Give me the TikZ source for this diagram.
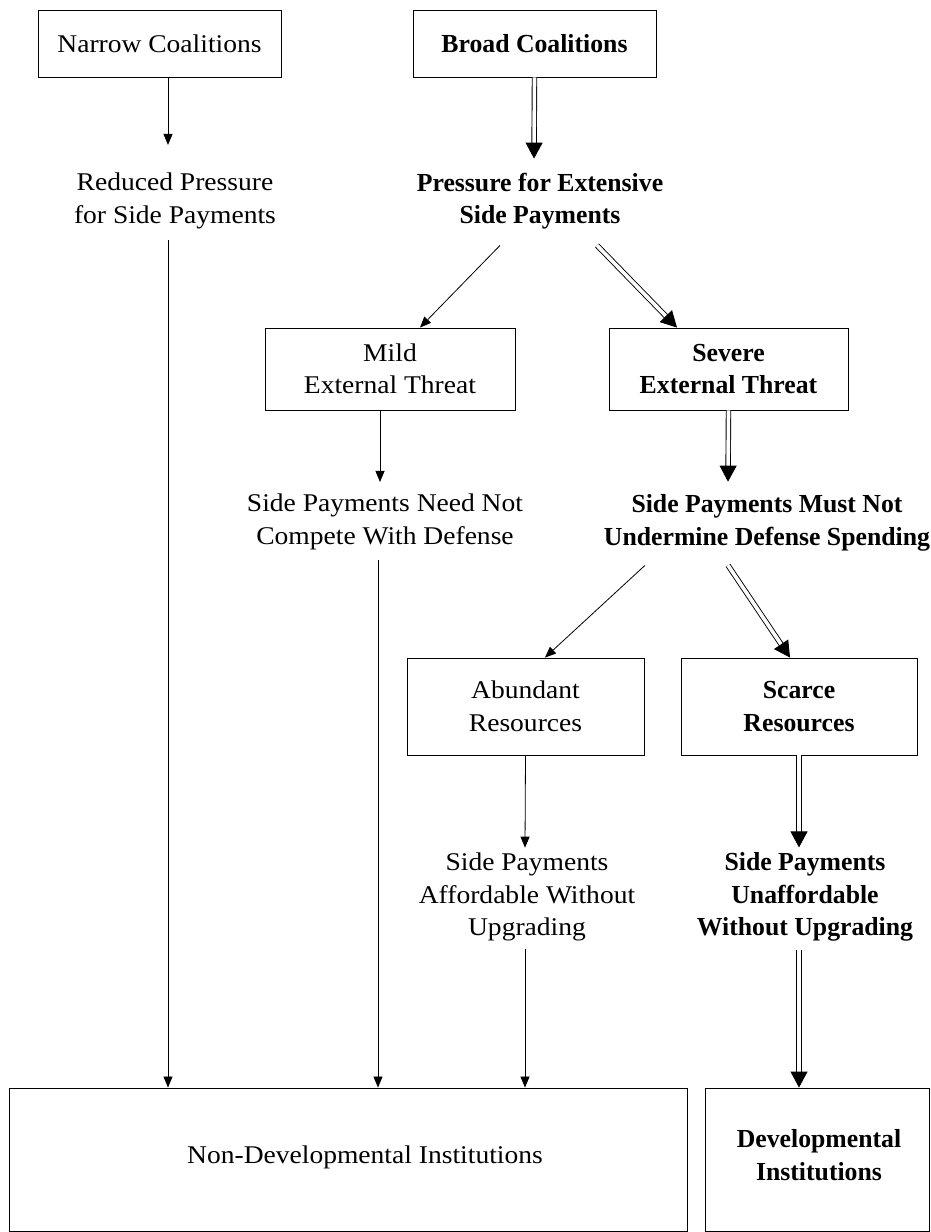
\documentclass[tikz,border=0pt]{standalone}
\usepackage{fontspec}
\setmainfont{Liberation Serif}
\newfontfamily\regf[FakeStretch=1.08]{Liberation Serif}
\newfontfamily\bldf[FakeStretch=0.99]{Liberation Serif}
\usetikzlibrary{arrows.meta,calc}
\begin{document}
\begin{tikzpicture}[x=1pt,y=-1pt,
  box/.style={draw, line width=0.9pt, inner sep=0pt, align=center, font=\regf\fontsize{25.5}{32.5}\selectfont},
  txt/.style={inner sep=0pt, align=center, font=\regf\fontsize{25.5}{32.5}\selectfont},
  bld/.style={font=\bldf\fontsize{26}{32.5}\selectfont\bfseries},
  single/.style={line width=0.8pt, -{Triangle[length=11pt,width=9pt]}},
  dbl/.style={double, double distance=3.6pt, line width=0.9pt, -{Triangle[length=16pt,width=17pt]}}]
\useasboundingbox (0,0) rectangle (931,1232);
% boxes
\node[box, minimum width=243pt, minimum height=67pt] (nc) at (159.5,43.5) {Narrow Coalitions};
\node[box, bld, minimum width=243pt, minimum height=67pt] (bc) at (534.5,43.5) {Broad Coalitions};
\node[box, minimum width=250pt, minimum height=82pt] (mild) at (390,369) {Mild\\External Threat};
\node[box, bld, minimum width=239pt, minimum height=82pt] (sev) at (728.5,369) {Severe\\External Threat};
\node[box, minimum width=237pt, minimum height=97pt] (ab) at (525.5,706.5) {Abundant\\Resources};
\node[box, bld, minimum width=236pt, minimum height=97pt] (sc) at (799,706.5) {Scarce\\Resources};
\node[box, minimum width=678pt, minimum height=143pt] (nd) at (348,1159.5) {};
\node[txt] (ndt) at (365,1157) {Non-Developmental Institutions};
\node[box, minimum width=224pt, minimum height=143pt] (dev) at (817,1159.5) {};
\node[txt, bld] (devt) at (819,1155) {Developmental\\Institutions};
% text nodes
\node[txt] (rp) at (175,201) {Reduced Pressure\\for Side Payments};
\node[txt, bld] (psp) at (540,201) {Pressure for Extensive\\Side Payments};
\node[txt] (snn) at (385,522) {Side Payments Need Not\\Compete With Defense};
\node[txt, bld] (smn) at (767,523) {Side Payments Must Not\\Undermine Defense Spending};
\node[txt] (saf) at (527,897) {Side Payments\\Affordable Without\\Upgrading};
\node[txt, bld] (sun) at (805,897) {Side Payments\\Unaffordable\\Without Upgrading};
% connectors
\draw[single] ([xshift=8.5pt]nc.south) -- ($(rp.north)+(-7,-28)$);
\draw[dbl] (bc.south) -- ($(psp.north)+(-6,-14)$);
\draw[single] ($(psp.south)+(-40,16)$) -- ([xshift=30pt]mild.north);
\draw[dbl] ($(psp.south)+(57,16)$) -- ([xshift=-51.5pt]sev.north);
\draw[single] ([xshift=-10pt]mild.south) -- ($(snn.north)+(-5,-12)$);
\draw[dbl] (sev.south) -- ($(smn.north)+(-39,-13)$);
\draw[single] ($(smn.south)+(-122,14)$) -- ([xshift=19.5pt]ab.north);
\draw[dbl] ($(smn.south)+(-39,14)$) -- ([xshift=-9pt]sc.north);
\draw[single] (ab.south) -- ($(saf.north)+(-2,-5)$);
\draw[dbl] (sc.south) -- ($(sun.north)+(-6,-5)$);
\draw[single] ($(rp.south)+(-7,11)$) -- ([xshift=-180pt]nd.north);
\draw[single] ($(snn.south)+(-7,10)$) -- ([xshift=30pt]nd.north);
\draw[single] ($(saf.south)+(-2,8)$) -- ([xshift=177pt]nd.north);
\draw[dbl] ($(sun.south)+(-6,8)$) -- ([xshift=-18pt]dev.north);
\end{tikzpicture}
\end{document}
